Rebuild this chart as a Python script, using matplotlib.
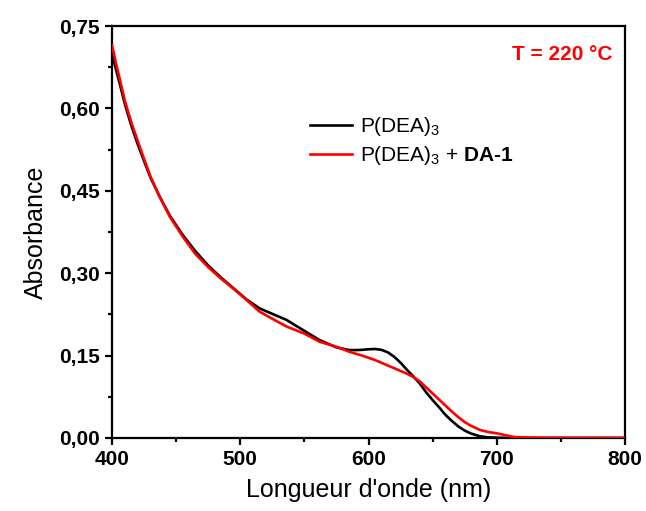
import matplotlib.pyplot as plt
from matplotlib.ticker import MultipleLocator, FuncFormatter

plt.rcParams['font.family'] = ['Liberation Sans', 'DejaVu Sans']
plt.rcParams['mathtext.fontset'] = 'custom'
plt.rcParams['mathtext.rm'] = 'Liberation Sans'
plt.rcParams['mathtext.it'] = 'Liberation Sans:italic'
plt.rcParams['mathtext.bf'] = 'Liberation Sans:bold'

wavelength = [400, 403, 406, 410, 415, 420, 425, 430, 437, 445, 455, 465, 475, 485, 495,
              505, 515, 525, 536, 550, 562, 575, 585, 590, 595, 600, 605, 610, 615, 620,
              625, 630, 635, 640, 645, 650, 655, 660, 665, 670, 675, 680, 687, 693, 700,
              707, 713, 720, 735, 800]

# P(DEA)3
abs_black = [0.700, 0.672, 0.645, 0.608, 0.569, 0.535, 0.504, 0.474, 0.440, 0.405, 0.370,
             0.340, 0.314, 0.292, 0.272, 0.252, 0.236, 0.226, 0.215, 0.195, 0.178, 0.165,
             0.160, 0.160, 0.1605, 0.1615, 0.162, 0.1605, 0.156, 0.148, 0.137, 0.124,
             0.112, 0.099, 0.083, 0.069, 0.056, 0.042, 0.031, 0.021, 0.0135, 0.008,
             0.003, 0.0012, 0.0005, 0.0002, 0.0, 0.0, 0.0, 0.0]

# P(DEA)3 + DA-1
abs_red = [0.715, 0.683, 0.654, 0.614, 0.575, 0.541, 0.508, 0.476, 0.440, 0.403, 0.367,
           0.335, 0.311, 0.290, 0.271, 0.251, 0.230, 0.217, 0.203, 0.190, 0.175, 0.166,
           0.157, 0.1535, 0.150, 0.146, 0.142, 0.137, 0.132, 0.127, 0.122, 0.117, 0.111,
           0.103, 0.092, 0.081, 0.070, 0.059, 0.048, 0.038, 0.029, 0.022, 0.0146, 0.011,
           0.0085, 0.005, 0.002, 0.001, 0.0004, 0.0]

fig = plt.figure(figsize=(6.46, 5.11), dpi=100)
ax = fig.add_axes([0.1734, 0.1429, 0.7941, 0.8062])

ax.plot(wavelength, abs_black, color='black', lw=1.9, label=r'P(DEA)$_3$', zorder=2)
ax.plot(wavelength, abs_red, color='#ff0000', lw=1.9,
        label='P(DEA)$_3$ + $\\mathbf{DA\u2010 1}$', zorder=3)

ax.set_xlim(400, 800)
ax.set_ylim(0, 0.75)
ax.xaxis.set_major_locator(MultipleLocator(100))
ax.xaxis.set_minor_locator(MultipleLocator(50))
ax.yaxis.set_major_locator(MultipleLocator(0.15))
ax.yaxis.set_minor_locator(MultipleLocator(0.075))
ax.yaxis.set_major_formatter(FuncFormatter(lambda v, p: f"{v:.2f}".replace('.', ',')))

for s in ax.spines.values():
    s.set_linewidth(1.6)
ax.tick_params(which='major', direction='out', length=5, width=1.6, labelsize=15, pad=4)
ax.tick_params(which='minor', direction='out', length=3, width=1.6)
for lab in ax.get_xticklabels() + ax.get_yticklabels():
    lab.set_fontweight('bold')

ax.set_xlabel("Longueur d'onde (nm)", fontsize=18, labelpad=6)
ax.set_ylabel("Absorbance", fontsize=18, labelpad=8)

ax.text(0.976, 0.955, 'T = 220 °C', transform=ax.transAxes, color='#ff0000',
        fontsize=15, fontweight='bold', ha='right', va='top')

ax.legend(loc='upper left', bbox_to_anchor=(0.35, 0.83), frameon=False, fontsize=15,
          handlelength=2.0, handletextpad=0.4, labelspacing=0.3)

fig.savefig('out.png', dpi=100)
